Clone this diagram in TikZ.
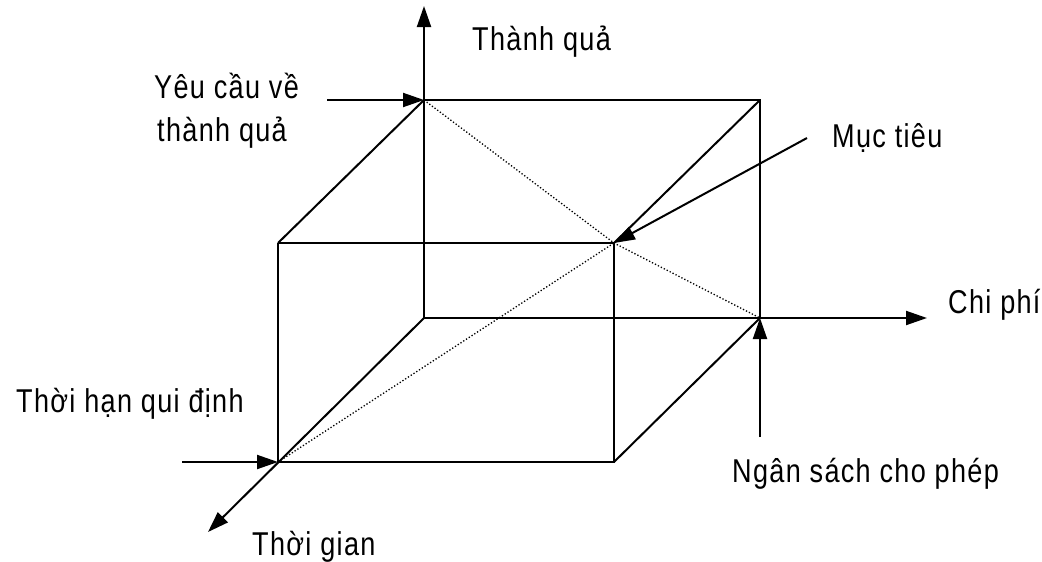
\documentclass[tikz,border=0pt]{standalone}
\usepackage{fontspec}
\setmainfont{Liberation Sans}[FakeStretch=0.82,LetterSpace=4]
\usetikzlibrary{arrows.meta}
\begin{document}
\begin{tikzpicture}[x=1pt,y=-1pt,
  edge/.style={line width=2pt},
  dot/.style={line width=1.3pt,dotted},
  arr/.style={line width=2pt,-{Triangle[length=21pt,width=14pt]}},
  lbl/.style={inner sep=0pt,anchor=base west,font=\fontsize{33}{40}\selectfont}]
\useasboundingbox (0,0) rectangle (1042,562);
% cube corners
\coordinate (O) at (424,318);
\coordinate (BTL) at (424,100);
\coordinate (BTR) at (760,100);
\coordinate (BBR) at (760,318);
\coordinate (FTL) at (278,243);
\coordinate (FTR) at (614,243);
\coordinate (FBL) at (278,462);
\coordinate (FBR) at (614,462);
% axis ends
\coordinate (Ytip) at (424,6);
\coordinate (Xtip) at (927,318);
\coordinate (Ztip) at (208,532);
% arrow starts
\coordinate (S1) at (327,100);
\coordinate (S2) at (807,138);
\coordinate (S3) at (182,462);
\coordinate (S4) at (760,437);
% edges
\draw[edge] (BTL) -- (BTR) -- (BBR);
\draw[edge] (FTL) -- (FTR) -- (FBR) -- (FBL) -- (FTL);
\draw[edge] (BTL) -- (FTL);
\draw[edge] (BTR) -- (FTR);
\draw[edge] (BBR) -- (FBR);
% dotted
\draw[dot] (BTL) -- (FTR) -- (BBR);
\draw[dot] (FBL) -- (FTR);
% axes
\draw[arr] (O) -- (Ytip);
\draw[arr] (O) -- (Xtip);
\draw[arr] (O) -- (Ztip);
% pointer arrows
\draw[arr] (S1) -- (BTL);
\draw[arr] (S2) -- (FTR);
\draw[arr] (S3) -- (FBL);
\draw[arr] (S4) -- (BBR);
% labels
\node[lbl] (tq) at (472,50) {Thành quả};
\node[lbl] (yc1) at (154,98) {Yêu cầu về};
\node[lbl] (yc2) at (157,141) {thành quả};
\node[lbl] (mt) at (832,147) {Mục tiêu};
\node[lbl] (cp) at (948,313) {Chi phí};
\node[lbl] (th) at (16,412) {Thời hạn qui định};
\node[lbl] (ns) at (732,482) {Ngân sách cho phép};
\node[lbl] (tg) at (252,555) {Thời gian};
\end{tikzpicture}
\end{document}
